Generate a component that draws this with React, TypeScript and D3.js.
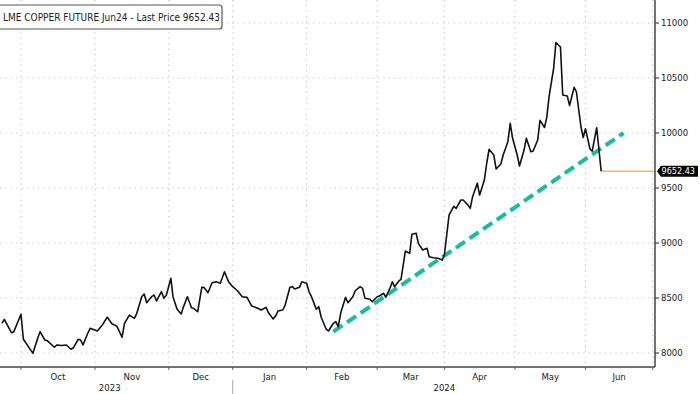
import React from "react";
import * as d3 from "d3";

// LME copper, daily closes
const priceDates = [
  "2023-09-23", "2023-09-24", "2023-09-27", "2023-09-28", "2023-10-01", "2023-10-02", "2023-10-06", "2023-10-08",
  "2023-10-09", "2023-10-11", "2023-10-12", "2023-10-15", "2023-10-16", "2023-10-18", "2023-10-20", "2023-10-22",
  "2023-10-23", "2023-10-25", "2023-10-26", "2023-10-27", "2023-10-29", "2023-10-30", "2023-11-02", "2023-11-04",
  "2023-11-06", "2023-11-08", "2023-11-09", "2023-11-10", "2023-11-12", "2023-11-13", "2023-11-15", "2023-11-17",
  "2023-11-18", "2023-11-20", "2023-11-21", "2023-11-22", "2023-11-24", "2023-11-25", "2023-11-26", "2023-11-28",
  "2023-11-29", "2023-11-30", "2023-12-02", "2023-12-03", "2023-12-05", "2023-12-07", "2023-12-08", "2023-12-10",
  "2023-12-12", "2023-12-13", "2023-12-15", "2023-12-17", "2023-12-18", "2023-12-20", "2023-12-22", "2023-12-24",
  "2023-12-26", "2023-12-28", "2023-12-30", "2024-01-01", "2024-01-03", "2024-01-05", "2024-01-07", "2024-01-09",
  "2024-01-11", "2024-01-13", "2024-01-15", "2024-01-16", "2024-01-18", "2024-01-19", "2024-01-20", "2024-01-22",
  "2024-01-23", "2024-01-25", "2024-01-26", "2024-01-27", "2024-01-29", "2024-01-30", "2024-02-01", "2024-02-02",
  "2024-02-03", "2024-02-05", "2024-02-06", "2024-02-07", "2024-02-09", "2024-02-10", "2024-02-12", "2024-02-13",
  "2024-02-14", "2024-02-15", "2024-02-17", "2024-02-18", "2024-02-20", "2024-02-21", "2024-02-23", "2024-02-24",
  "2024-02-25", "2024-02-27", "2024-02-28", "2024-03-01", "2024-03-02", "2024-03-04", "2024-03-05", "2024-03-07",
  "2024-03-08", "2024-03-09", "2024-03-11", "2024-03-12", "2024-03-14", "2024-03-16", "2024-03-17", "2024-03-19",
  "2024-03-20", "2024-03-22", "2024-03-24", "2024-03-25", "2024-03-27", "2024-03-29", "2024-03-31", "2024-04-01",
  "2024-04-03", "2024-04-05", "2024-04-06", "2024-04-08", "2024-04-09", "2024-04-11", "2024-04-12", "2024-04-13",
  "2024-04-15", "2024-04-16", "2024-04-18", "2024-04-19", "2024-04-20", "2024-04-22", "2024-04-23", "2024-04-25",
  "2024-04-26", "2024-04-28", "2024-04-29", "2024-04-30", "2024-05-02", "2024-05-03", "2024-05-05", "2024-05-06",
  "2024-05-08", "2024-05-09", "2024-05-11", "2024-05-12", "2024-05-14", "2024-05-15", "2024-05-16", "2024-05-18",
  "2024-05-19", "2024-05-21", "2024-05-22", "2024-05-24", "2024-05-25", "2024-05-27", "2024-05-28", "2024-05-30",
  "2024-05-31", "2024-06-01", "2024-06-03", "2024-06-04", "2024-06-06", "2024-06-08",
];
const priceValues = [
  8270, 8306, 8185, 8194, 8352, 8125, 7997, 8134,
  8194, 8118, 8112, 8052, 8073, 8068, 8073, 8034,
  8048, 8125, 8118, 8073, 8179, 8225, 8200, 8255,
  8325, 8264, 8255, 8239, 8143, 8270, 8345, 8315,
  8361, 8512, 8536, 8457, 8512, 8527, 8473, 8557,
  8497, 8527, 8679, 8512, 8397, 8355, 8415, 8512,
  8412, 8406, 8375, 8597, 8597, 8548, 8639, 8648,
  8634, 8739, 8648, 8603, 8566, 8512, 8506, 8427,
  8412, 8391, 8415, 8366, 8309, 8336, 8382, 8391,
  8436, 8597, 8603, 8582, 8597, 8648, 8634, 8557,
  8512, 8397, 8421, 8325, 8218, 8200, 8270, 8285,
  8239, 8361, 8506, 8457, 8512, 8566, 8603, 8588,
  8497, 8488, 8466, 8512, 8518, 8543, 8506, 8594,
  8648, 8603, 8655, 8670, 8927, 8906, 9079, 9088,
  8997, 8936, 8952, 8875, 8866, 8861, 8845, 8891,
  9255, 9334, 9315, 9391, 9391, 9345, 9315, 9421,
  9543, 9436, 9573, 9725, 9852, 9800, 9673, 9718,
  9800, 9921, 10088, 9952, 9800, 9700, 9845, 9952,
  9830, 9836, 9936, 10115, 10050, 10145, 10330, 10588,
  10823, 10782, 10345, 10336, 10250, 10415, 10375, 10057,
  9959, 10038, 9855, 9835, 10048, 9652.43,
];

const lastPrice = 9652.43;
const title = "LME COPPER FUTURE Jun24 - Last Price 9652.43";

// hand-drawn trend line
const trendDates = ["2024-02-12", "2024-06-18"];
const trendValues = [8194, 10000];

// x axis runs on trading days: month starts + trading days in each month
const monthStarts = [
  "2023-10-01", "2023-11-01", "2023-12-01", "2024-01-01", "2024-02-01",
  "2024-03-01", "2024-04-01", "2024-05-01", "2024-06-01", "2024-07-01",
];
const monthLabels = ["Oct", "Nov", "Dec", "Jan", "Feb", "Mar", "Apr", "May", "Jun"];
const tradingDaysPerMonth = [22, 22, 19, 22, 21, 20, 21, 21, 20];
const yearLabels = ["2023", "2024"];
const yearLabelDates = ["2023-11-07", "2024-04-01"];
const yearBreak = "2024-01-01";

const yTicks = [8000, 8500, 9000, 9500, 10000, 10500, 11000];

const W = 700;
const H = 394;
const plotRight = 655;
const plotBottom = 367;
const font = "'DejaVu Sans Condensed', 'DejaVu Sans', sans-serif";

export default function App() {
  const parse = d3.timeParse("%Y-%m-%d");

  const cumDays = [0];
  tradingDaysPerMonth.forEach((n, i) => cumDays.push(cumDays[i] + n));
  const tx = d3.scaleLinear().domain([0, cumDays[cumDays.length - 1]]).range([21, 652.7]);
  const x = d3
    .scaleTime()
    .domain(monthStarts.map((d) => parse(d)))
    .range(cumDays.map((d) => tx(d)));

  const y = d3.scaleLinear().domain([8000, 11000]).range([353, 23]);

  const series = priceDates.map((d, i) => [x(parse(d)), y(priceValues[i])]);
  const line = d3.line();
  const trend = trendDates.map((d, i) => [x(parse(d)), y(trendValues[i])]);

  const lastX = series[series.length - 1][0];
  const lastY = y(lastPrice);

  const grid = "#c4c4c4";

  return (
    <svg
      width={W}
      height={H}
      style={{ position: "absolute", left: 0, top: 0, background: "#fff" }}
      fontFamily={font}
    >
      <defs>
        <clipPath id="plot">
          <rect x={0} y={0} width={plotRight} height={plotBottom} />
        </clipPath>
      </defs>

      {/* grid */}
      {yTicks.map((t) => (
        <line key={"h" + t} x1={0} x2={plotRight} y1={y(t)} y2={y(t)}
          stroke={grid} strokeWidth={1.2} strokeDasharray="1.2,4.2" />
      ))}
      {monthStarts.map((m) => (
        <line key={"v" + m} x1={x(parse(m))} x2={x(parse(m))} y1={0} y2={plotBottom}
          stroke={grid} strokeWidth={1.2} strokeDasharray="1.2,4.2" />
      ))}

      <g clipPath="url(#plot)">
        <line x1={lastX} x2={plotRight} y1={lastY} y2={lastY} stroke="#f5b860" strokeWidth={1.5} />
        <path d={line(trend)} fill="none" stroke="#15bf9d" strokeWidth={4} strokeDasharray="11,5.5" />
        <path d={line(series)} fill="none" stroke="#111" strokeWidth={1.6} strokeLinejoin="round" />
      </g>

      {/* right axis */}
      <line x1={plotRight} x2={plotRight} y1={0} y2={plotBottom} stroke="#444" strokeWidth={1.5} />
      {yTicks.map((t) => (
        <g key={"yt" + t}>
          <line x1={plotRight} x2={plotRight + 4} y1={y(t)} y2={y(t)} stroke="#444" strokeWidth={1.2} />
          <text x={plotRight + 6} y={y(t)} dy="0.35em" fontSize={9.5} fill="#222">{t}</text>
        </g>
      ))}

      {/* last price tag */}
      <path
        d={`M${plotRight + 2},${lastY} L${plotRight + 6},${lastY - 5.5} H${W - 2} V${lastY + 5.5} H${plotRight + 6} Z`}
        fill="#000"
      />
      <text x={plotRight + 6.5} y={lastY} dy="0.36em" fontSize={9} fill="#fff">{lastPrice.toFixed(2)}</text>

      {/* bottom axis */}
      <line x1={0} x2={plotRight} y1={plotBottom} y2={plotBottom} stroke="#444" strokeWidth={1.5} />
      {monthStarts.map((m) => (
        <line key={"xt" + m} x1={x(parse(m))} x2={x(parse(m))} y1={plotBottom} y2={plotBottom + 3}
          stroke="#666" strokeWidth={1} />
      ))}
      {monthLabels.map((lab, i) => (
        <text key={lab} x={(x(parse(monthStarts[i])) + x(parse(monthStarts[i + 1]))) / 2} y={380}
          textAnchor="middle" fontSize={9.5} fill="#222">{lab}</text>
      ))}
      {yearLabels.map((lab, i) => (
        <text key={lab} x={x(parse(yearLabelDates[i]))} y={391} textAnchor="middle" fontSize={9.5} fill="#222">{lab}</text>
      ))}
      <line x1={x(parse(yearBreak))} x2={x(parse(yearBreak))} y1={380} y2={H} stroke="#aaa" strokeWidth={1} />

      {/* legend */}
      <rect x={-3} y={5} width={225} height={24} rx={3} fill="#fff" stroke="#555" strokeWidth={1.2} />
      <text x={3} y={17} dy="0.35em" fontSize={10} fill="#222">{title}</text>
    </svg>
  );
}
